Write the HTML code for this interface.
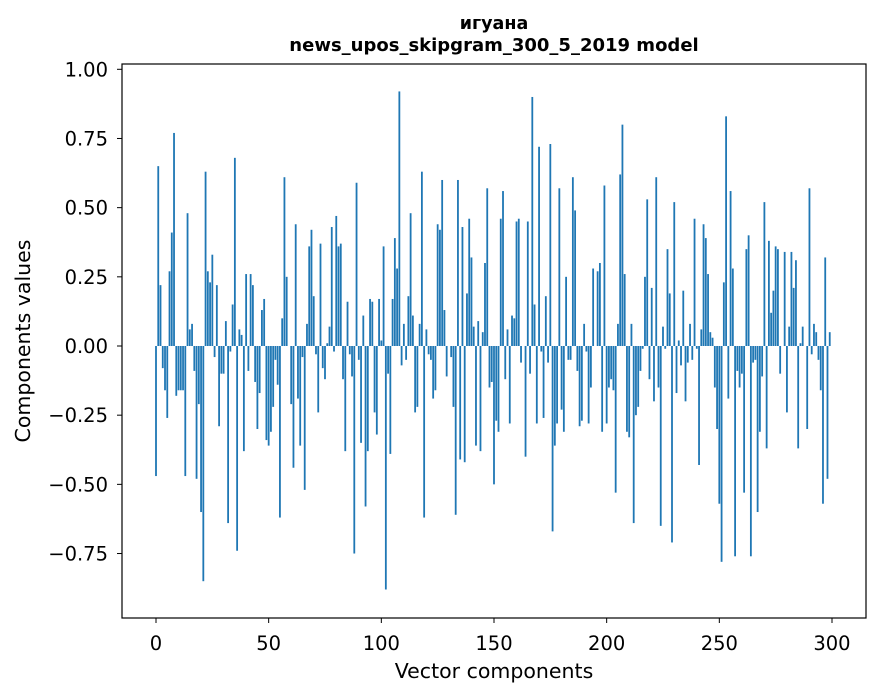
<!DOCTYPE html>
<html><head><meta charset="utf-8"><style>
body{margin:0;background:#fff;}
svg{display:block;font-family:"DejaVu Sans","Liberation Sans",sans-serif;}
</style></head><body>
<svg id="chart" width="880" height="696" viewBox="0 0 880 696" xmlns="http://www.w3.org/2000/svg">
<rect width="880" height="696" fill="#fff"/>
<text x="494" y="29" text-anchor="middle" font-size="17.5" font-weight="bold">игуана</text>
<text x="494" y="51" text-anchor="middle" font-size="18" font-weight="bold">news_upos_skipgram_300_5_2019 model</text>
<g id="bars"></g>
<g id="axes"></g>
<rect x="122" y="64" width="744" height="554" fill="none" stroke="#000" stroke-width="1.2"/>
<text x="494" y="678" text-anchor="middle" font-size="20.5">Vector components</text>
<text transform="translate(30,341) rotate(-90)" text-anchor="middle" font-size="20.5">Components values</text>
</svg>
<script>
const values = [-0.47,0.65,0.22,-0.08,-0.16,-0.26,0.27,0.41,0.77,-0.18,-0.16,-0.16,-0.16,-0.47,0.48,0.06,0.08,-0.09,-0.48,-0.21,-0.60,-0.85,0.63,0.27,0.23,0.33,-0.04,0.22,-0.29,-0.10,
-0.10,0.09,-0.64,-0.02,0.15,0.68,-0.74,0.06,0.04,-0.38,0.26,-0.09,0.26,0.22,-0.13,-0.30,-0.17,0.13,0.17,-0.34,
-0.36,-0.31,-0.22,-0.05,-0.14,-0.62,0.10,0.61,0.25,0.00,-0.21,-0.44,0.44,-0.19,-0.36,-0.04,-0.52,0.08,0.36,0.42,
0.18,-0.03,-0.24,0.37,-0.08,-0.12,0.01,0.07,0.43,-0.02,0.47,0.36,0.37,-0.12,-0.38,0.16,-0.03,-0.11,-0.75,0.59,
-0.05,-0.35,0.11,-0.58,-0.38,0.17,0.16,-0.24,-0.32,0.17,0.02,0.36,-0.88,-0.10,-0.39,0.17,0.39,0.28,0.92,-0.07,
0.08,-0.05,0.18,0.48,0.11,-0.24,-0.22,0.08,0.63,-0.62,0.06,-0.03,-0.05,-0.19,-0.16,0.44,0.42,0.60,0.13,-0.11,
0.00,-0.04,-0.22,-0.61,0.60,-0.41,0.43,-0.42,0.19,0.46,0.32,0.07,-0.36,0.09,-0.38,0.05,0.30,0.57,-0.15,-0.13,
-0.50,-0.27,-0.31,0.46,0.56,-0.12,0.06,-0.28,0.11,0.10,0.45,0.46,-0.06,0.00,-0.40,0.45,-0.10,0.90,0.15,-0.28,
0.72,-0.02,-0.26,0.18,-0.06,0.73,-0.67,-0.36,-0.28,0.57,-0.23,-0.31,0.25,-0.05,-0.05,0.61,0.49,-0.09,-0.29,-0.27,
0.08,-0.02,-0.28,-0.15,0.28,0.00,0.27,0.30,-0.31,0.58,-0.28,-0.15,-0.12,-0.16,-0.53,0.08,0.62,0.80,0.26,-0.31,
-0.33,0.08,-0.64,-0.25,-0.22,-0.09,-0.01,0.25,0.53,-0.12,0.21,-0.20,0.61,-0.15,-0.65,0.07,-0.01,0.35,0.19,-0.71,
0.52,-0.17,0.02,-0.07,0.20,-0.20,-0.06,0.08,-0.05,0.46,-0.01,-0.43,0.06,0.44,0.39,0.26,0.05,0.03,-0.15,-0.30,
-0.57,-0.78,0.23,0.83,-0.19,0.56,0.28,-0.76,-0.09,-0.15,-0.10,-0.53,0.35,0.40,-0.76,-0.06,-0.05,-0.60,-0.31,-0.11,
0.52,-0.37,0.38,0.12,0.20,0.36,0.35,-0.10,0.00,0.34,-0.24,0.07,0.34,0.21,0.31,-0.37,0.01,0.07,0.00,-0.30,
0.57,-0.03,0.08,0.05,-0.05,-0.16,-0.57,0.32,-0.48,0.05];
const xTicks = [0,50,100,150,200,250,300];
const yTicks = [-0.75,-0.50,-0.25,0.00,0.25,0.50,0.75,1.00];
const yTickLabels = ["−0.75","−0.50","−0.25","0.00","0.25","0.50","0.75","1.00"];

const NS = "http://www.w3.org/2000/svg";
const xs = v => 156 + 2.2533 * v;
const ys = v => 346 - 276.7 * v;
const barsG = document.getElementById('bars');
values.forEach((v, i) => {
  const r = document.createElementNS(NS, 'rect');
  const y0 = ys(0), y1 = ys(v);
  r.setAttribute('x', xs(i - 0.4));
  r.setAttribute('width', 2.2533 * 0.8);
  r.setAttribute('y', Math.min(y0, y1));
  r.setAttribute('height', Math.abs(y1 - y0));
  r.setAttribute('fill', '#1f77b4');
  
  
  barsG.appendChild(r);
});
const axesG = document.getElementById('axes');
xTicks.forEach(t => {
  const l = document.createElementNS(NS, 'line');
  l.setAttribute('x1', xs(t)); l.setAttribute('x2', xs(t));
  l.setAttribute('y1', 618); l.setAttribute('y2', 623);
  l.setAttribute('stroke', '#000');
  
  
  axesG.appendChild(l);
  const tx = document.createElementNS(NS, 'text');
  tx.setAttribute('x', xs(t)); tx.setAttribute('y', 650);
  tx.setAttribute('text-anchor', 'middle'); tx.setAttribute('font-size', '19.5');
  tx.textContent = t;
  
  
  axesG.appendChild(tx);
});
yTicks.forEach((t, k) => {
  const l = document.createElementNS(NS, 'line');
  l.setAttribute('x1', 117); l.setAttribute('x2', 122);
  l.setAttribute('y1', ys(t)); l.setAttribute('y2', ys(t));
  l.setAttribute('stroke', '#000');
  
  
  axesG.appendChild(l);
  const tx = document.createElementNS(NS, 'text');
  tx.setAttribute('x', 108); tx.setAttribute('y', ys(t) + 7);
  tx.setAttribute('text-anchor', 'end'); tx.setAttribute('font-size', '19.5');
  tx.textContent = yTickLabels[k];
  
  
  axesG.appendChild(tx);
});
</script>
</body></html>
